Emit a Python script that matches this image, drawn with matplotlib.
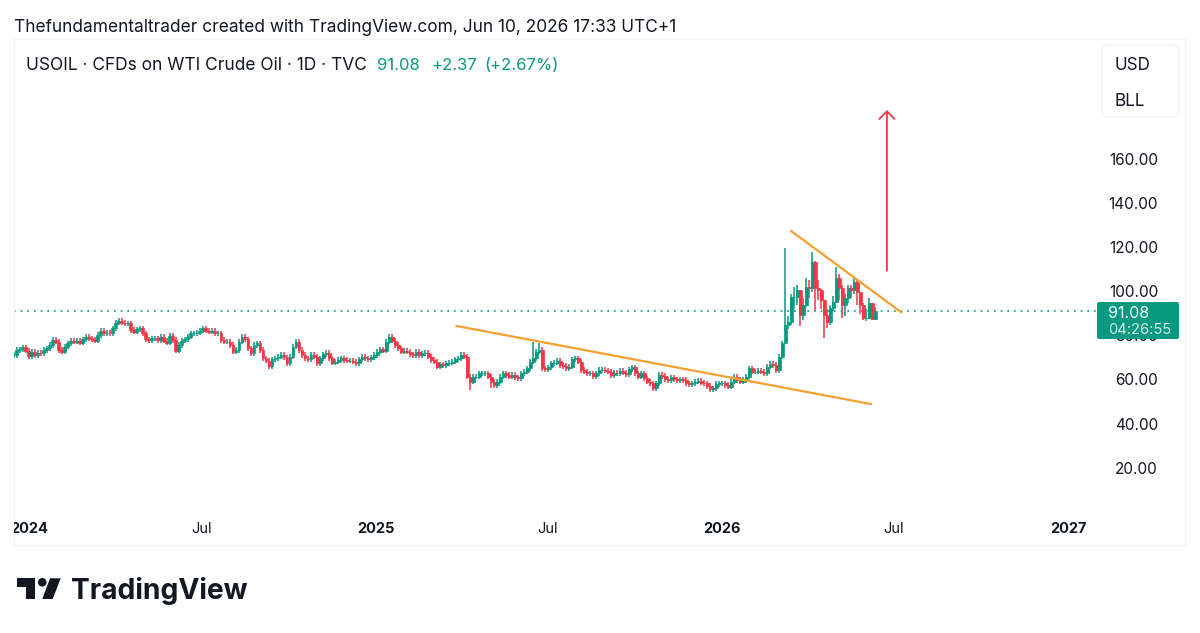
#!/usr/bin/env python3
"""USOIL daily candles with hand drawn trendlines, TradingView snapshot style."""
import matplotlib
matplotlib.use("Agg")
import matplotlib.dates as mdates
import matplotlib.pyplot as plt
import pandas as pd
from matplotlib.patches import Circle, FancyBboxPatch, Polygon

plt.rcParams["font.family"] = ["Inter", "DejaVu Sans"]

GREEN = "#089981"
RED = "#f23645"
ORANGE = "#f5a02f"
ARROW_RED = "#ee3a4c"
TEXT = "#131722"
BORDER = "#f0f3fa"

# closes, one candle for every ~3 px of the picture
closes_2024 = [
    71.2, 73.5, 73.8, 74.7, 73.2, 70.8, 72.7, 71.2, 72.3, 72.0, 73.5, 74.3, 75.8, 78.0, 77.3, 73.5,
    72.7, 75.0, 76.5, 77.7, 77.3, 77.7, 76.8, 78.3, 79.5, 78.8, 78.3, 77.7, 80.3, 82.1, 81.0, 81.3,
    81.0, 83.3, 85.9, 86.8, 85.9, 85.6, 85.6, 82.6, 81.8, 82.9, 83.3, 81.0, 78.3, 78.0, 78.8, 78.8,
    78.0, 79.5, 77.7, 76.8, 79.8, 78.0, 73.2, 75.8, 77.7, 78.3, 79.5, 81.0, 81.0, 81.3, 82.3, 83.3,
    82.3, 81.8, 82.3, 81.0, 81.0, 78.0, 77.3, 77.3, 75.8, 72.7, 73.5, 77.3, 79.5, 78.3, 74.3, 72.0,
    75.8, 76.5, 73.5, 69.7, 68.7, 66.2, 69.3, 69.7, 70.5, 71.2, 70.2, 67.5, 70.5, 75.0, 77.3, 73.5,
]
closes_2025 = [
    71.2, 69.7, 69.3, 71.2, 70.5, 67.5, 69.7, 71.5, 72.3, 69.7, 67.8, 68.2, 69.0, 69.7, 69.0, 68.7,
    68.7, 68.2, 67.5, 69.3, 70.5, 69.7, 69.3, 70.2, 71.2, 72.7, 73.8, 73.2, 77.3, 79.5, 77.7, 75.8,
    74.3, 72.7, 73.2, 72.7, 71.5, 71.2, 72.7, 71.2, 72.0, 72.3, 70.5, 69.0, 68.2, 66.0, 67.0, 66.7,
    67.5, 67.8, 68.2, 69.3, 69.7, 71.2, 70.5, 61.4, 59.2, 61.4, 61.4, 62.9, 62.9, 62.9, 61.4, 59.2,
    57.7, 59.2, 61.4, 62.9, 62.2, 61.4, 62.2, 61.1, 60.7, 62.9, 63.7, 65.2, 68.2, 69.7, 72.7, 73.5,
    65.2, 64.7, 65.6, 67.5, 67.8, 68.7, 66.7, 66.3, 65.2, 66.0, 69.3, 69.7, 68.2, 64.4, 63.7, 62.9,
    62.9, 61.7, 62.9, 64.4,
]
closes_base = [
    64.4, 64.1, 63.7, 62.2, 63.2, 62.9, 64.1, 63.2, 62.5, 64.7, 65.6, 62.9, 61.4, 62.9, 60.7, 59.1,
    58.4, 56.1, 58.4, 62.2, 61.7, 60.2, 59.9, 61.1, 60.2, 59.9, 60.2, 59.9, 58.4, 57.9, 58.4, 59.1,
    59.6, 58.7, 58.4, 57.2, 55.7, 56.1, 58.1, 58.4, 58.4, 57.6, 56.9, 59.1, 61.4, 59.9, 59.1, 59.9,
    61.4, 65.2, 63.7, 63.7, 64.1, 63.7, 62.9, 65.9, 67.1, 66.7, 64.4, 70.5, 76.5,
]
closes_late = [
    84.8, 86.3, 97.7, 97.7, 100.7, 89.4, 93.9, 102.2, 101.4, 113.5, 101.4, 100.7, 96.2, 89.4, 86.3, 92.4,
    95.4, 106.0, 101.4, 93.9, 96.9, 101.4, 100.7, 104.5, 100.0, 93.9, 87.8, 87.8, 94.6, 87.5, 91.08,
]
highs_late = [
    119.5, 89.0, 99.0, 102.0, 103.0, 100.0, 97.0, 106.0, 105.0, 118.0, 114.0, 105.0, 101.0, 96.0, 92.0, 94.0,
    98.0, 111.0, 108.0, 103.0, 99.0, 103.0, 103.0, 106.0, 105.5, 100.0, 95.0, 92.0, 97.0, 95.0, 93.0,
]
lows_late = [
    81.5, 83.0, 85.0, 92.0, 94.0, 84.5, 87.0, 93.0, 97.0, 100.0, 91.0, 96.0, 92.0, 79.0, 83.5, 85.0,
    91.0, 95.0, 96.0, 88.0, 89.0, 95.0, 97.0, 99.0, 94.0, 90.0, 87.0, 86.5, 87.5, 87.0, 87.0,
]
# the few long wicks before the 2026 spike (candle number, price)
spike_high_idx = [173, 175]
spike_high_val = [77.3, 76.8]
spike_low_idx = [152, 159]
spike_low_val = [55.4, 56.1]

trend1_dates = ["2025-03-27", "2026-06-07"]
trend1_prices = [84.4, 49.0]
trend2_dates = ["2026-03-15", "2026-07-09"]
trend2_prices = [127.4, 90.6]
arrow_date = "2026-06-24"
arrow_prices = [109.4, 182.2]

last_price = 91.08
price_ticks = [20, 40, 60, 80, 100, 120, 140, 160]
time_ticks = ["2024-01-01", "2024-07-01", "2025-01-01", "2025-07-01",
              "2026-01-01", "2026-07-01", "2027-01-01"]
time_labels = ["2024", "Jul", "2025", "Jul", "2026", "Jul", "2027"]
year_labels = {"2024", "2025", "2026", "2027"}

closes = closes_2024 + closes_2025 + closes_base + closes_late
dates = pd.date_range("2023-12-16", periods=len(closes), freq="76h")
x = mdates.date2num(dates)

opens = [closes[0]] + closes[:-1]
n_early = len(closes) - len(closes_late)
highs = [max(o, c) + 1.2 for o, c in zip(opens[:n_early], closes[:n_early])] + highs_late
lows = [min(o, c) - 1.2 for o, c in zip(opens[:n_early], closes[:n_early])] + lows_late
for i, v in zip(spike_high_idx, spike_high_val):
    highs[i] = v
for i, v in zip(spike_low_idx, spike_low_val):
    lows[i] = v

W, H = 1200, 633
fig = plt.figure(figsize=(W / 100, H / 100), dpi=100, facecolor="white")

# axes fills the light frame of the snapshot
left, right, top, bottom = 14, 1185, 39, 545
ax = fig.add_axes([left / W, (H - bottom) / H, (right - left) / W, (bottom - top) / H])
px_per_day = 0.948
day0 = mdates.date2num(pd.Timestamp("2024-01-01"))
ax.set_xlim(day0 + (left - 29) / px_per_day, day0 + (right - 29) / px_per_day)
ax.set_ylim((512.2 - bottom) / 2.207, (512.2 - top) / 2.207)
ax.set_xticks([])
ax.set_yticks([])
for s in ax.spines.values():
    s.set_color(BORDER)
    s.set_linewidth(0.8)

colors = [GREEN if c >= o else RED for o, c in zip(opens, closes)]
ax.vlines(x, lows, highs, colors=colors, linewidth=1.1, zorder=3)
ax.bar(x, [abs(c - o) for o, c in zip(opens, closes)], bottom=[min(o, c) for o, c in zip(opens, closes)],
       width=3.1, color=colors, linewidth=0.5, edgecolor=colors, zorder=3)

ax.plot(mdates.date2num(pd.to_datetime(trend1_dates)), trend1_prices, color=ORANGE, lw=1.6, zorder=4)
ax.plot(mdates.date2num(pd.to_datetime(trend2_dates)), trend2_prices, color=ORANGE, lw=1.6, zorder=4)
arrow_x = mdates.date2num(pd.Timestamp(arrow_date))
ax.annotate("", xy=(arrow_x, arrow_prices[1]), xytext=(arrow_x, arrow_prices[0]),
            arrowprops=dict(arrowstyle="->,head_length=0.55,head_width=0.55", color=ARROW_RED, lw=1.3,
                            shrinkA=0, shrinkB=0), zorder=4)

# last price dotted line stops at the price tag
tag_left = ax.get_xlim()[0] + (1097 - left) / px_per_day
ax.plot([ax.get_xlim()[0], tag_left], [last_price, last_price], color=GREEN, lw=1.2,
        linestyle=(0, (1, 3)), zorder=2)

label_x = ax.get_xlim()[0] + (1158 - left) / px_per_day
for p in price_ticks:
    ax.text(label_x, p - 0.5, f"{p:.2f}", ha="right", va="center", fontsize=11, color=TEXT, zorder=2)

label_y = (512.2 - 529) / 2.207
for d, lab in zip(time_ticks, time_labels):
    ax.text(mdates.date2num(pd.Timestamp(d)), label_y, lab, ha="center", va="center", fontsize=10.5,
            color=TEXT, fontweight="bold" if lab in year_labels else "normal", clip_on=True)

# overlay in picture pixels for the header, tag and logo
over = fig.add_axes([0, 0, 1, 1], facecolor="none")
over.set_xlim(0, W)
over.set_ylim(H, 0)
over.axis("off")

over.text(14, 27.5, "Thefundamentaltrader created with TradingView.com, Jun 10, 2026 17:33 UTC+1",
          fontsize=12.44, color=TEXT, va="center")
over.text(26, 66, "USOIL · CFDs on WTI Crude Oil · 1D · TVC", fontsize=12.5, color=TEXT, va="center")
over.text(377, 66, "91.08", fontsize=12, color=GREEN, va="center")
over.text(431, 66, "+2.37", fontsize=12, color=GREEN, va="center")
over.text(484, 66, "(+2.67%)", fontsize=12, color=GREEN, va="center")

over.add_patch(FancyBboxPatch((1102, 45), 77, 72, boxstyle="round,pad=0,rounding_size=5",
                              fc="white", ec=BORDER, lw=0.8))
over.text(1115, 65, "USD", fontsize=12.3, color=TEXT, va="center")
over.text(1115, 101.5, "BLL", fontsize=12.3, color=TEXT, va="center")

over.add_patch(FancyBboxPatch((1097, 302), 82, 37, boxstyle="round,pad=0,rounding_size=2",
                              fc=GREEN, ec="none"))
over.text(1108, 313, "91.08", fontsize=11.5, color="white", va="center")
over.text(1108, 329.5, "04:26:55", fontsize=10.6, color="#d5efe9", va="center")

# TradingView logo
logo = "#131722"
over.add_patch(Polygon([(17.3, 578.3), (35, 578.3), (35, 599), (26, 599), (26, 587.3), (17.3, 587.3)], fc=logo, ec="none"))
over.add_patch(Circle((42.3, 582.3), 4.3, fc=logo, ec="none"))
over.add_patch(Polygon([(50, 578.3), (60.7, 578.3), (52.7, 599), (42.3, 599)], fc=logo, ec="none"))
over.text(71, 591, "TradingView", fontsize=20.3, fontweight="bold", color=logo, va="center")

fig.savefig("out.png", dpi=100)
